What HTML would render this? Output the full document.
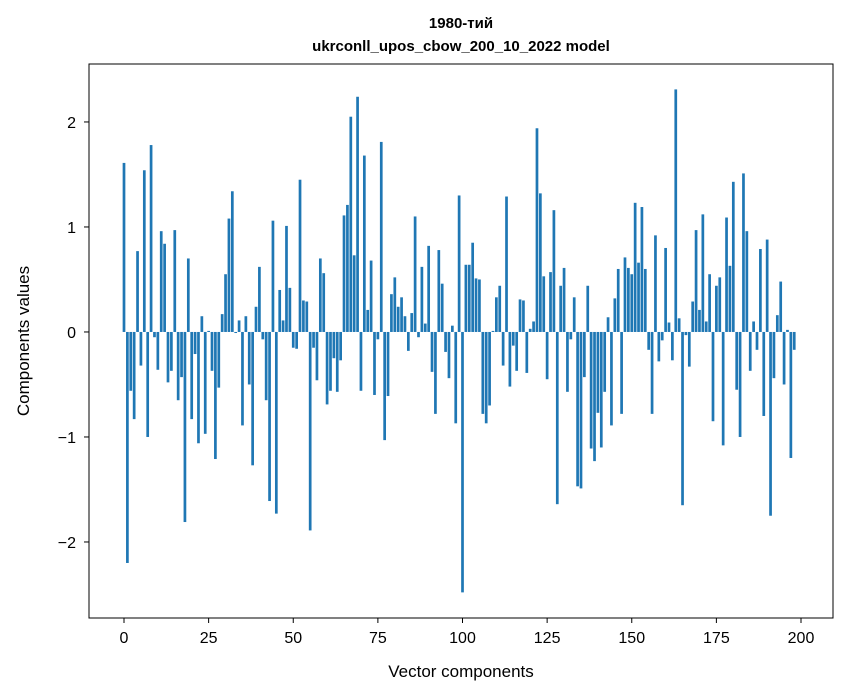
<!DOCTYPE html>
<html><head><meta charset="utf-8"><style>
body{margin:0;background:#fff;}
svg{display:block;font-family:"Liberation Sans","DejaVu Sans",sans-serif;}
</style></head><body>
<svg id="chart" width="847" height="696"></svg>
<script>
const values=[1.61,-2.20,-0.56,-0.83,0.77,-0.32,1.54,-1.0,1.78,-0.05,-0.36,0.96,0.84,-0.48,-0.37,0.97,-0.65,-0.43,-1.81,0.70,
-0.83,-0.21,-1.06,0.15,-0.97,0.01,-0.37,-1.21,-0.53,0.17,0.55,1.08,1.34,-0.01,0.11,-0.89,0.15,-0.50,-1.27,0.24,
0.62,-0.07,-0.65,-1.61,1.06,-1.73,0.40,0.11,1.01,0.42,-0.15,-0.16,1.45,0.30,0.29,-1.89,-0.15,-0.46,0.70,0.56,
-0.69,-0.56,-0.25,-0.57,-0.27,1.11,1.21,2.05,0.73,2.24,-0.56,1.68,0.21,0.68,-0.60,-0.07,1.81,-1.03,-0.61,0.36,
0.52,0.24,0.33,0.15,-0.18,0.18,1.10,-0.05,0.62,0.08,0.82,-0.38,-0.78,0.78,0.46,-0.19,-0.44,0.06,-0.87,1.30,
-2.48,0.64,0.64,0.85,0.51,0.50,-0.78,-0.87,-0.70,0.01,0.33,0.44,-0.32,1.29,-0.52,-0.13,-0.37,0.31,0.30,-0.39,
0.03,0.10,1.94,1.32,0.53,-0.45,0.57,1.16,-1.64,0.44,0.61,-0.57,-0.07,0.33,-1.47,-1.49,-0.43,0.44,-1.11,-1.23,
-0.77,-1.10,-0.57,0.14,-0.89,0.32,0.60,-0.78,0.71,0.61,0.55,1.23,0.66,1.19,0.60,-0.17,-0.78,0.92,-0.28,-0.08,
0.80,0.09,-0.27,2.31,0.13,-1.65,-0.03,-0.33,0.29,0.97,0.21,1.12,0.10,0.55,-0.85,0.44,0.52,-1.08,1.09,0.63,
1.43,-0.55,-1.00,1.51,0.96,-0.37,0.10,-0.17,0.79,-0.80,0.88,-1.75,-0.44,0.16,0.48,-0.50,0.02,-1.20,-0.17];
const xTicks=[0,25,50,75,100,125,150,175,200];
const yTicks=[-2,-1,0,1,2];
const yTickLabels=["\u22122","\u22121","0","1","2"];

const L=89,R=833,T=64,B=618;
const xMin=-10.34,xMax=209.45,yMin=-2.724,yMax=2.552;
const sx=v=>L+(v-xMin)/(xMax-xMin)*(R-L);
const sy=v=>B-(v-yMin)/(yMax-yMin)*(B-T);
const NS="http://www.w3.org/2000/svg";
const svg=document.getElementById('chart');
function mk(tag,attrs,parent){const e=document.createElementNS(NS,tag);for(const k in attrs)e.setAttribute(k,attrs[k]);(parent||svg).appendChild(e);return e;}

const bars=mk('g',{});


values.forEach((v,i)=>{
  const x0=sx(i-0.4),x1=sx(i+0.4);
  const y0=sy(Math.max(v,0)),y1=sy(Math.min(v,0));
  const r=mk('rect',{x:x0,y:y0,width:x1-x0,height:Math.max(y1-y0,0.1),fill:'#1f77b4'},bars);
  
  
});

const frame=mk('rect',{x:L,y:T,width:R-L,height:B-T,fill:'none',stroke:'#000','stroke-width':1});



xTicks.forEach(t=>{
  const x=sx(t);
  const tk=mk('line',{x1:x,x2:x,y1:B,y2:B+5,stroke:'#000'});
  
  
  const lb=mk('text',{x:x,y:B+25,'font-size':16,'text-anchor':'middle',fill:'#000'});
  lb.textContent=t;
  
  
});
yTicks.forEach((t,i)=>{
  const y=sy(t);
  const tk=mk('line',{x1:L-5,x2:L,y1:y,y2:y,stroke:'#000'});
  
  
  const lb=mk('text',{x:L-13,y:y+6,'font-size':16,'text-anchor':'end',fill:'#000'});
  lb.textContent=yTickLabels[i];
  
  
});

const xl=mk('text',{x:(L+R)/2,y:677,'font-size':17,'text-anchor':'middle'});
xl.textContent='Vector components';


const yl=mk('text',{x:0,y:0,'font-size':17,'text-anchor':'middle',transform:'translate(29,341) rotate(-90)'});
yl.textContent='Components values';


const t1=mk('text',{x:(L+R)/2,y:28,'font-size':15,'font-weight':'bold','text-anchor':'middle'});
t1.textContent='1980-тий';


const t2=mk('text',{x:(L+R)/2,y:51,'font-size':15,'font-weight':'bold','text-anchor':'middle'});
t2.textContent='ukrconll_upos_cbow_200_10_2022 model';


</script>
</body></html>
